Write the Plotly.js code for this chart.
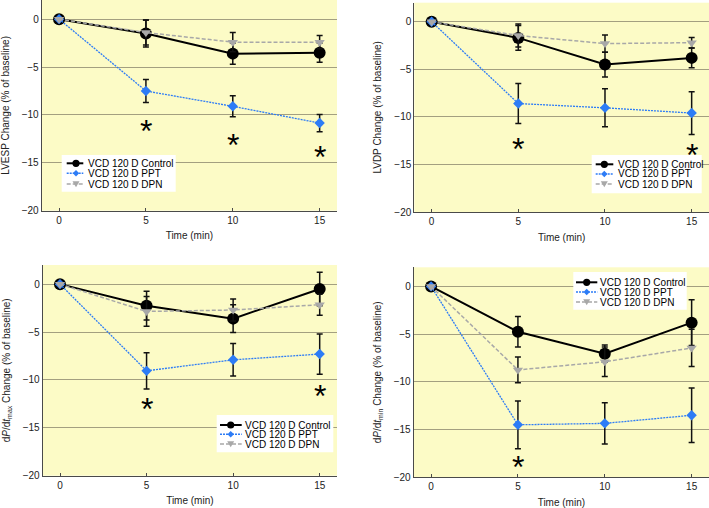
<!DOCTYPE html>
<html>
<head>
<meta charset="utf-8">
<script src="https://cdn.plot.ly/plotly-3.0.1.min.js"></script>
<style>html,body{margin:0;padding:0;background:#fff;}#chart{width:709px;height:508px;}</style>
</head>
<body>
<div id="chart"></div>
<script>
// ---------- DATA ----------
const time = [0, 5, 10, 15];
const seriesNames = ["VCD 120 D Control", "VCD 120 D PPT", "VCD 120 D DPN"];
const xTickVals = [0, 5, 10, 15];
const yTickVals = [-20, -15, -10, -5, 0];

// Panel A: LVESP
const lvespControl = [0, -1.5, -3.6, -3.5];
const lvespControlErr = [0, 1.4, 1.1, 1.0];
const lvespPPT = [0, -7.5, -9.1, -10.85];
const lvespPPTErr = [0, 1.2, 1.1, 0.9];
const lvespDPN = [0, -1.4, -2.4, -2.4];
const lvespDPNErr = [0, 1.3, 1.0, 0.7];
const lvespSigX = [5, 10, 15];
const lvespSigY = [-11.2, -12.6, -13.9];

// Panel B: LVDP
const lvdpControl = [0, -1.7, -4.5, -3.8];
const lvdpControlErr = [0, 1.3, 1.3, 1.05];
const lvdpPPT = [0, -8.6, -9.05, -9.6];
const lvdpPPTErr = [0, 2.1, 2.0, 2.25];
const lvdpDPN = [0, -1.45, -2.3, -2.2];
const lvdpDPNErr = [0, 1.2, 0.9, 0.55];
const lvdpSigX = [5, 15];
const lvdpSigY = [-12.9, -13.5];

// Panel C: dP/dt max
const dpmaxControl = [0, -2.25, -3.6, -0.5];
const dpmaxControlErr = [0, 1.5, 1.45, 1.75];
const dpmaxPPT = [0, -9.05, -7.9, -7.3];
const dpmaxPPTErr = [0, 1.9, 1.7, 2.1];
const dpmaxDPN = [0, -2.85, -2.7, -2.15];
const dpmaxDPNErr = [0, 1.55, 1.15, 1.1];
const dpmaxSigX = [5, 15];
const dpmaxSigY = [-12.5, -11.15];

// Panel D: dP/dt min
const dpminControl = [0, -4.75, -7.05, -3.8];
const dpminControlErr = [0, 1.6, 0.9, 2.4];
const dpminPPT = [0, -14.5, -14.35, -13.5];
const dpminPPTErr = [0, 2.5, 2.15, 2.85];
const dpminDPN = [0, -8.75, -7.9, -6.45];
const dpminDPNErr = [0, 1.35, 1.55, 1.95];
const dpminSigX = [5];
const dpminSigY = [-18.4];

const yTitles = [
  "LVESP Change (% of baseline)",
  "LVDP Change (% of baseline)",
  "d<i>P</i>/d<i>t</i><sub>max</sub> Change (% of baseline)",
  "d<i>P</i>/d<i>t</i><sub>min</sub> Change (% of baseline)"
];

// ---------- STYLE ----------
const W = 709, H = 508;
const FONT = "Liberation Sans, Arial, sans-serif";
const BG = "#fcfbc6";
const GRID = "#a39f80";
const AX = "#4a4a4a";
const styles = [
  {color: "#000000", dash: "solid", width: 2, symbol: "circle", size: 12},
  {color: "#2d7cf6", dash: "2px,1px", width: 1.3, symbol: "diamond", size: 8},
  {color: "#a8a8a8", dash: "4px,2px", width: 1.5, symbol: "triangle-down", size: 9}
];

// pixel-space plot boxes [left, top, right, bottom]
const boxes = [
  [41.7, 0, 337, 210.7],
  [414.3, 2.7, 709, 212],
  [42.7, 265, 337, 475.7],
  [413.7, 267.3, 709, 477.3]
];
// legend boxes: [x0,y0,x1,y1], rows y, line x0,x1, marker x, text x
const legends = [
  {box: [61.7, 155, 175.7, 191.7], rows: [163.3, 173.3, 184], lx: [66.7, 83.3], mx: 76, tx: 86},
  {box: [591.7, 155, 701.7, 193.3], rows: [164.3, 174, 184], lx: [595.7, 613.3], mx: 604.3, tx: 616},
  {box: [216.7, 415, 333.3, 452.3], rows: [425, 434.3, 444], lx: [220, 241.7], mx: 230.7, tx: 243.3},
  {box: [573.3, 272, 686.7, 309.7], rows: [282.3, 292, 302], lx: [576, 597.3], mx: 586.7, tx: 598.3}
];

const panels = [
  {vals: [lvespControl, lvespPPT, lvespDPN], errs: [lvespControlErr, lvespPPTErr, lvespDPNErr], sx: lvespSigX, sy: lvespSigY},
  {vals: [lvdpControl, lvdpPPT, lvdpDPN], errs: [lvdpControlErr, lvdpPPTErr, lvdpDPNErr], sx: lvdpSigX, sy: lvdpSigY},
  {vals: [dpmaxControl, dpmaxPPT, dpmaxDPN], errs: [dpmaxControlErr, dpmaxPPTErr, dpmaxDPNErr], sx: dpmaxSigX, sy: dpmaxSigY},
  {vals: [dpminControl, dpminPPT, dpminDPN], errs: [dpminControlErr, dpminPPTErr, dpminDPNErr], sx: dpminSigX, sy: dpminSigY}
];

const px = x => x / W;
const py = y => (H - y) / H;

const traces = [];
const layout = {
  width: W, height: H,
  margin: {l: 0, r: 0, t: 0, b: 0},
  paper_bgcolor: "#ffffff",
  plot_bgcolor: BG,
  showlegend: false,
  font: {family: FONT, size: 10, color: "#222"},
  shapes: [],
  annotations: []
};

panels.forEach((p, i) => {
  const n = i + 1;
  const xa = "x" + (n === 1 ? "" : n), ya = "y" + (n === 1 ? "" : n);
  const b = boxes[i];
  p.vals.forEach((v, k) => {
    const s = styles[k];
    traces.push({
      type: "scatter", mode: "lines+markers",
      x: time, y: v, name: seriesNames[k],
      xaxis: xa, yaxis: ya,
      line: {color: s.color, dash: s.dash, width: s.width},
      marker: {color: s.color, symbol: s.symbol, size: s.size, line: {width: 0}},
      error_y: {type: "data", array: p.errs[k], visible: true, color: "#111", thickness: 1.5, width: 3},
      hoverinfo: "x+y"
    });
  });
  const xkey = "xaxis" + (n === 1 ? "" : n), ykey = "yaxis" + (n === 1 ? "" : n);
  layout[xkey] = {
    domain: [px(b[0]), px(b[2])], anchor: ya,
    range: [-1, 16], tickvals: xTickVals, ticks: "inside", ticklen: 3, tickcolor: AX,
    showline: true, linecolor: AX, linewidth: 1, showgrid: false, zeroline: false,
    tickfont: {size: 10, family: FONT, color: "#222"},
    title: {text: "Time (min)", font: {size: 10, family: FONT, color: "#222"}, standoff: 7},
    automargin: false
  };
  layout[ykey] = {
    domain: [py(b[3]), py(b[1])], anchor: xa,
    range: [-20, 2], tickvals: yTickVals, ticks: "",
    showline: true, linecolor: AX, linewidth: 1,
    showgrid: true, gridcolor: GRID, gridwidth: 1, zeroline: false,
    tickfont: {size: 10, family: FONT, color: "#222"},
    title: {text: yTitles[i], font: {size: 10, family: FONT, color: "#222"}, standoff: 10},
    automargin: false
  };
  // custom legend (background box, sample lines, markers)
  const L = legends[i];
  layout.shapes.push({type: "rect", xref: "paper", yref: "paper",
    x0: px(L.box[0]), x1: px(L.box[2]), y0: py(L.box[3]), y1: py(L.box[1]),
    fillcolor: "#ffffff", line: {width: 0}, layer: "above"});
  L.rows.forEach((ry, k) => {
    const s = styles[k];
    layout.shapes.push({type: "line", xref: "paper", yref: "paper",
      x0: px(L.lx[0]), x1: px(L.lx[1]), y0: py(ry), y1: py(ry),
      line: {color: s.color, width: k === 0 ? 2 : 1.5, dash: s.dash}, layer: "above"});
    const r = 3.6;
    let path;
    if (k === 0) {
      layout.shapes.push({type: "circle", xref: "paper", yref: "paper",
        x0: px(L.mx - r), x1: px(L.mx + r), y0: py(ry + r), y1: py(ry - r),
        fillcolor: s.color, line: {width: 0}, layer: "above"});
    } else if (k === 1) {
      path = `M ${px(L.mx)} ${py(ry - 3.2)} L ${px(L.mx + 3.2)} ${py(ry)} L ${px(L.mx)} ${py(ry + 3.2)} L ${px(L.mx - 3.2)} ${py(ry)} Z`;
      layout.shapes.push({type: "path", xref: "paper", yref: "paper", path: path,
        fillcolor: s.color, line: {width: 0}, layer: "above"});
    } else {
      path = `M ${px(L.mx - 3.5)} ${py(ry - 2.8)} L ${px(L.mx + 3.5)} ${py(ry - 2.8)} L ${px(L.mx)} ${py(ry + 3.2)} Z`;
      layout.shapes.push({type: "path", xref: "paper", yref: "paper", path: path,
        fillcolor: s.color, line: {width: 0}, layer: "above"});
    }
    layout.annotations.push({xref: "paper", yref: "paper", x: px(L.tx), y: py(ry),
      xanchor: "left", yanchor: "middle", text: seriesNames[k], showarrow: false,
      font: {size: 10, family: FONT, color: "#000"}});
  });
  // significance asterisks
  p.sx.forEach((x, j) => {
    layout.annotations.push({
      xref: xa, yref: ya, x: x, y: p.sy[j], text: "*", showarrow: false,
      xanchor: "center", yanchor: "middle",
      font: {size: 32, family: FONT, color: "#000"}, yshift: -5
    });
  });
});

Plotly.newPlot("chart", traces, layout, {staticPlot: true, displayModeBar: false});
</script>
</body>
</html>
